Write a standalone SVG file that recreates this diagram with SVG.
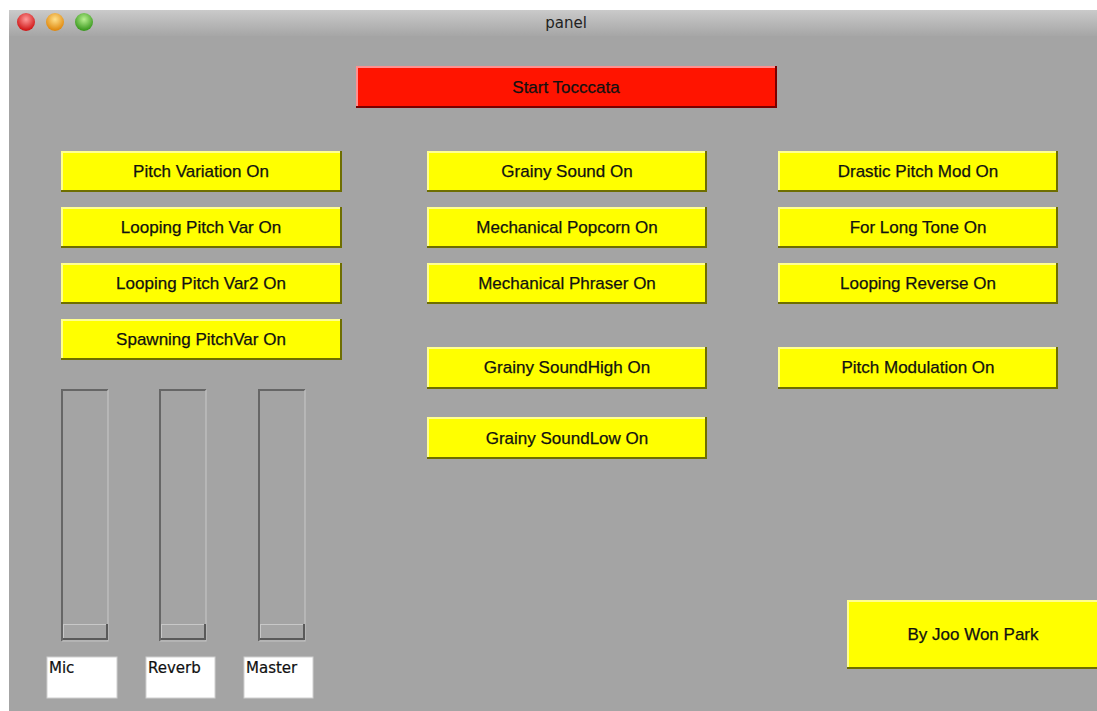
<svg xmlns="http://www.w3.org/2000/svg" width="1097" height="711" viewBox="0 0 1097 711">
<defs>
<linearGradient id="tb" x1="0" y1="0" x2="0" y2="1"><stop offset="0" stop-color="#cacaca"/><stop offset="1" stop-color="#a6a6a6"/></linearGradient>
<radialGradient id="gr" cx="0.5" cy="0.35" r="0.6"><stop offset="0" stop-color="#ff9a9a"/><stop offset="1" stop-color="#d01818"/></radialGradient>
<radialGradient id="go" cx="0.5" cy="0.35" r="0.6"><stop offset="0" stop-color="#ffe08a"/><stop offset="1" stop-color="#e08a10"/></radialGradient>
<radialGradient id="gg" cx="0.5" cy="0.35" r="0.6"><stop offset="0" stop-color="#b8f090"/><stop offset="1" stop-color="#3c9a20"/></radialGradient>
</defs>
<style>
.btn{fill:#ffff00}
.hl{fill:#ffff90}
.sh{fill:#6e6e00}
.t{font-family:"Liberation Sans",Arial,sans-serif;font-size:17px;fill:#111;text-anchor:middle;stroke:#111;stroke-width:0.25}
.lbl{font-family:"DejaVu Sans","Liberation Sans",sans-serif;font-size:15px;fill:#111;stroke:#111;stroke-width:0.2}
</style>
<rect x="0" y="0" width="1097" height="711" fill="#ffffff"/>
<rect x="9" y="10" width="1088" height="701" fill="#a4a4a4"/>
<rect x="9" y="10" width="1088" height="26" fill="url(#tb)"/>
<circle cx="26" cy="22" r="9" fill="url(#gr)"/>
<circle cx="55" cy="22" r="9" fill="url(#go)"/>
<circle cx="84" cy="22" r="9" fill="url(#gg)"/>
<text x="566" y="28" font-family="Lucida Grande,'DejaVu Sans',sans-serif" font-size="15" fill="#222" text-anchor="middle">panel</text>

<g id="start">
<rect x="356" y="66" width="421" height="42" fill="#7a0000"/>
<rect x="356" y="66" width="419" height="40" fill="#ff9090"/>
<rect x="358" y="68" width="417" height="38" fill="#ff1400"/>
<text class="t" x="566" y="93">Start Tocccata</text>
</g>

<g id="b1"><rect class="sh" x="61" y="151" width="281" height="41"/><rect class="hl" x="61" y="151" width="279" height="39"/><rect class="btn" x="63" y="153" width="277" height="37"/><text class="t" x="201" y="177">Pitch Variation On</text></g>
<g id="b2"><rect class="sh" x="61" y="207" width="281" height="41"/><rect class="hl" x="61" y="207" width="279" height="39"/><rect class="btn" x="63" y="209" width="277" height="37"/><text class="t" x="201" y="233">Looping Pitch Var On</text></g>
<g id="b3"><rect class="sh" x="61" y="263" width="281" height="41"/><rect class="hl" x="61" y="263" width="279" height="39"/><rect class="btn" x="63" y="265" width="277" height="37"/><text class="t" x="201" y="289">Looping Pitch Var2 On</text></g>
<g id="b4"><rect class="sh" x="61" y="319" width="281" height="41"/><rect class="hl" x="61" y="319" width="279" height="39"/><rect class="btn" x="63" y="321" width="277" height="37"/><text class="t" x="201" y="345">Spawning PitchVar On</text></g>

<g id="b5"><rect class="sh" x="427" y="151" width="280" height="41"/><rect class="hl" x="427" y="151" width="278" height="39"/><rect class="btn" x="429" y="153" width="276" height="37"/><text class="t" x="567" y="177">Grainy Sound On</text></g>
<g id="b6"><rect class="sh" x="427" y="207" width="280" height="41"/><rect class="hl" x="427" y="207" width="278" height="39"/><rect class="btn" x="429" y="209" width="276" height="37"/><text class="t" x="567" y="233">Mechanical Popcorn On</text></g>
<g id="b7"><rect class="sh" x="427" y="263" width="280" height="41"/><rect class="hl" x="427" y="263" width="278" height="39"/><rect class="btn" x="429" y="265" width="276" height="37"/><text class="t" x="567" y="289">Mechanical Phraser On</text></g>
<g id="b8"><rect class="sh" x="427" y="347" width="280" height="42"/><rect class="hl" x="427" y="347" width="278" height="40"/><rect class="btn" x="429" y="349" width="276" height="38"/><text class="t" x="567" y="373">Grainy SoundHigh On</text></g>
<g id="b9"><rect class="sh" x="427" y="417" width="280" height="42"/><rect class="hl" x="427" y="417" width="278" height="40"/><rect class="btn" x="429" y="419" width="276" height="38"/><text class="t" x="567" y="444">Grainy SoundLow On</text></g>

<g id="b10"><rect class="sh" x="778" y="151" width="280" height="41"/><rect class="hl" x="778" y="151" width="278" height="39"/><rect class="btn" x="780" y="153" width="276" height="37"/><text class="t" x="918" y="177">Drastic Pitch Mod On</text></g>
<g id="b11"><rect class="sh" x="778" y="207" width="280" height="41"/><rect class="hl" x="778" y="207" width="278" height="39"/><rect class="btn" x="780" y="209" width="276" height="37"/><text class="t" x="918" y="233">For Long Tone On</text></g>
<g id="b12"><rect class="sh" x="778" y="263" width="280" height="41"/><rect class="hl" x="778" y="263" width="278" height="39"/><rect class="btn" x="780" y="265" width="276" height="37"/><text class="t" x="918" y="289">Looping Reverse On</text></g>
<g id="b13"><rect class="sh" x="778" y="347" width="280" height="42"/><rect class="hl" x="778" y="347" width="278" height="40"/><rect class="btn" x="780" y="349" width="276" height="38"/><text class="t" x="918" y="373">Pitch Modulation On</text></g>

<g id="credit"><rect class="sh" x="847" y="600" width="250" height="69"/><rect class="hl" x="847" y="600" width="250" height="67"/><rect class="btn" x="849" y="602" width="248" height="65"/><text class="t" x="973" y="640">By Joo Won Park</text></g>

<g id="slider-mic">
<path d="M62 641 V390 H108" fill="none" stroke="#666" stroke-width="2"/>
<path d="M108 390 V641 H62" fill="none" stroke="#c4c4c4" stroke-width="1.2"/>
<rect x="63" y="624" width="45" height="16" fill="#5a5a5a"/>
<rect x="63" y="624" width="43" height="14" fill="#c8c8c8"/>
<rect x="64" y="625" width="42" height="13" fill="#a6a6a6"/>
<rect x="47" y="657" width="70" height="41" fill="#ffffff" stroke="#cfcfcf" stroke-width="1"/>
<text class="lbl" x="49" y="673">Mic</text>
</g>
<g id="slider-reverb">
<path d="M160 641 V390 H206" fill="none" stroke="#666" stroke-width="2"/>
<path d="M206 390 V641 H160" fill="none" stroke="#c4c4c4" stroke-width="1.2"/>
<rect x="161" y="624" width="45" height="16" fill="#5a5a5a"/>
<rect x="161" y="624" width="43" height="14" fill="#c8c8c8"/>
<rect x="162" y="625" width="42" height="13" fill="#a6a6a6"/>
<rect x="146" y="657" width="69" height="41" fill="#ffffff" stroke="#cfcfcf" stroke-width="1"/>
<text class="lbl" x="148" y="673">Reverb</text>
</g>
<g id="slider-master">
<path d="M259 641 V390 H305" fill="none" stroke="#666" stroke-width="2"/>
<path d="M305 390 V641 H259" fill="none" stroke="#c4c4c4" stroke-width="1.2"/>
<rect x="260" y="624" width="45" height="16" fill="#5a5a5a"/>
<rect x="260" y="624" width="43" height="14" fill="#c8c8c8"/>
<rect x="261" y="625" width="42" height="13" fill="#a6a6a6"/>
<rect x="244" y="657" width="69" height="41" fill="#ffffff" stroke="#cfcfcf" stroke-width="1"/>
<text class="lbl" x="246" y="673">Master</text>
</g>
<g id="connectors"/>
</svg>
